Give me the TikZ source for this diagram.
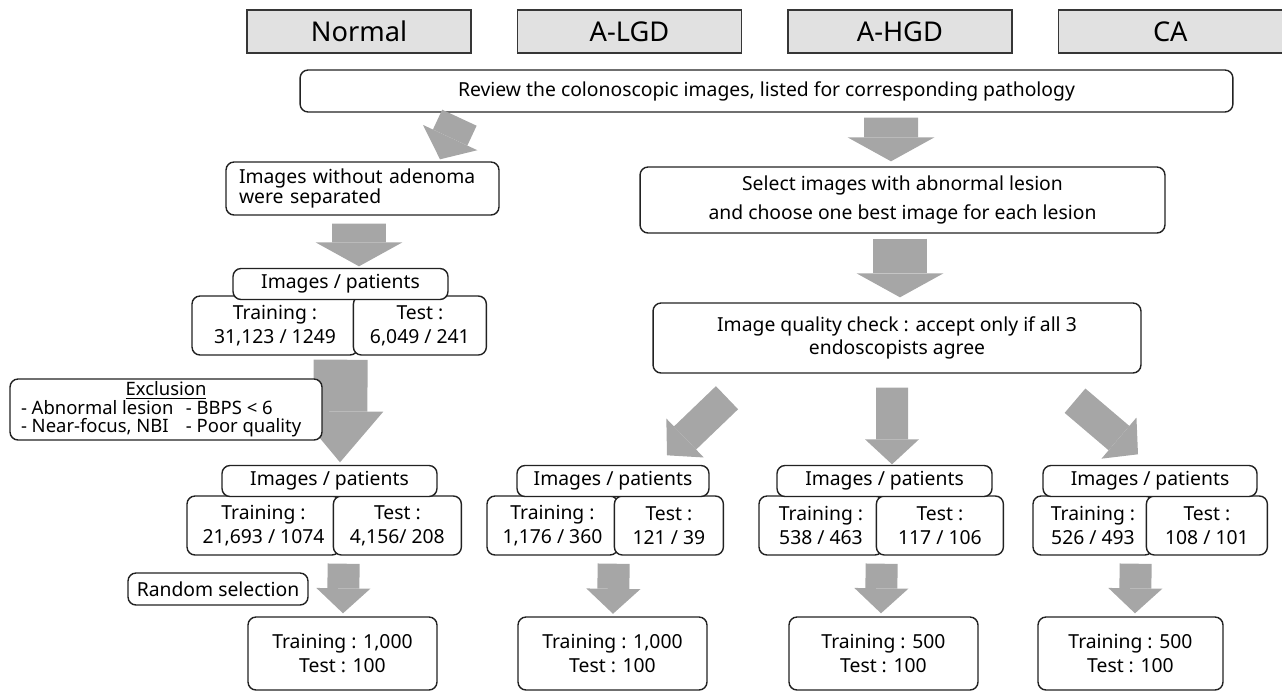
\documentclass[tikz,border=0pt]{standalone}
\usepackage{fontspec}
\setmainfont{Noto Sans}
\usetikzlibrary{positioning,calc,arrows.meta}
\definecolor{arrgray}{HTML}{A6A6A6}
\definecolor{hdrfill}{HTML}{E1E1E1}
\definecolor{hdrline}{HTML}{363636}
\definecolor{boxline}{HTML}{222222}

\begin{document}
\begin{tikzpicture}[x=0.02cm, y=-0.02cm,
    hdr/.style={rectangle, draw=hdrline, fill=hdrfill, line width=0.85pt, minimum width=4.48cm, minimum height=0.86cm, inner sep=0pt, font=\fontsize{15.5}{18}\selectfont},
    box/.style={rectangle, rounded corners=0.16cm, draw=boxline, fill=white, line width=0.8pt, inner sep=0pt, align=center, font=\fontsize{11}{13.5}\selectfont},
    ipbox/.style={box, minimum height=0.62cm},
    numbox/.style={box, minimum height=1.18cm},
    finbox/.style={box, minimum width=3.78cm, minimum height=1.46cm},
    fat/.style n args={3}{draw=arrgray, line width=#1, -{Triangle[width=#2, length=#3, line width=0pt]}},
    bigarr/.style={fat={1.08cm}{1.74cm}{0.48cm}},
    smallarr/.style={fat={0.64cm}{1.08cm}{0.5cm}}
]
\useasboundingbox (0,0) rectangle (1282,691);

% Pathology headers
\node[hdr] (hnorm) at (359,31.5) {Normal};
\node[hdr, right=0.9cm of hnorm] (hlgd) {A-LGD};
\node[hdr, right=0.9cm of hlgd] (hhgd) {A-HGD};
\node[hdr, right=0.9cm of hhgd] (hca) {CA};

% Review step
\node[box, minimum width=18.66cm, minimum height=0.84cm] (review) at (766.5,91) {Review the colonoscopic images, listed for corresponding pathology};

% Normal branch
\node[box, minimum width=5.46cm, minimum height=1.06cm, text width=4.94cm, align=left, font=\fontsize{11}{11}\selectfont] (noadn) at (362.5,188.5) {Images without adenoma\\were separated};
\node[numbox, minimum width=3.32cm] (tr1) at (275,325.5) {Training :\\31,123 / 1249};
\node[numbox, minimum width=2.66cm, right=-0.12cm of tr1] (te1) {Test :\\6,049 / 241};
\node[ipbox, minimum width=4.3cm] (ip1) at (340.5,284) {Images / patients};
\node[numbox, minimum width=3.06cm] (tr2) at (263.5,525.5) {Training :\\21,693 / 1074};
\node[numbox, minimum width=2.56cm, right=-0.16cm of tr2] (te2) {Test :\\4,156/ 208};
\node[ipbox, minimum width=4.3cm] (ip2) at (329.5,481) {Images / patients};
\node[box, minimum width=3.6cm, minimum height=0.64cm] (rand) at (218,589) {Random selection};
\node[finbox] (fin1) at (342.5,653.5) {Training : 1,000\\Test : 100};

% Lesion branch
\node[box, minimum width=10.5cm, minimum height=1.32cm] (sel) at (902.5,200) {Select images with abnormal lesion\\[3.5pt]and choose one best image for each lesion};
\node[box, minimum width=9.76cm, minimum height=1.4cm] (qc) at (897,338) {Image quality check : accept only if all 3\\endoscopists agree};

% A-LGD
\node[numbox, minimum width=2.62cm] (tr3) at (552.5,525.5) {Training :\\1,176 / 360};
\node[numbox, minimum width=2.18cm, right=-0.1cm of tr3] (te3) {Test :\\121 / 39};
\node[ipbox, minimum width=3.84cm] (ip3) at (613,481) {Images / patients};
\node[finbox] (fin2) at (612.5,653.5) {Training : 1,000\\Test : 100};

% A-HGD
\node[numbox, minimum width=2.48cm] (tr4) at (821,525.5) {Training :\\538 / 463};
\node[numbox, minimum width=2.54cm, right=-0.16cm of tr4] (te4) {Test :\\117 / 106};
\node[ipbox, minimum width=4.3cm] (ip4) at (884.5,481) {Images / patients};
\node[finbox] (fin3) at (883.5,653.5) {Training : 500\\Test : 100};

% CA
\node[numbox, minimum width=2.4cm] (tr5) at (1093,525.5) {Training :\\526 / 493};
\node[numbox, minimum width=2.42cm, right=-0.16cm of tr5] (te5) {Test :\\108 / 101};
\node[ipbox, minimum width=4.28cm] (ip5) at (1150,481) {Images / patients};
\node[finbox, minimum width=3.7cm] (fin4) at (1130.5,653.5) {Training : 500\\Test : 100};

% Block arrows
\draw[fat={0.76cm}{1.2cm}{0.48cm}] ($(review.south west)+(160,5)$) -- ($(noadn.north)+(77.5,-2)$);
\draw[bigarr] ($(review.south)+(124.5,5)$) -- ($(sel.north)+(-11.5,-5)$);
\draw[bigarr] ($(noadn.south)+(-3.5,8)$) -- ($(ip1.north)+(18.5,-1.5)$);
\draw[fat={1.08cm}{1.72cm}{1.02cm}] ($(tr1.south east)+(-18,4)$) -- ($(ip2.north)+(10.5,-2.5)$);
\draw[bigarr] ($(sel.south)+(-2.5,5)$) -- ($(qc.north)+(3,-5)$);
\draw[smallarr] ($(qc.south)+(-170,24)$) -- ($(ip3.north)+(54,-9.5)$);
\draw[smallarr] ($(qc.south)+(-5,14)$) -- ($(ip4.north)+(7.5,-0.5)$);
\draw[smallarr] ($(qc.south)+(178,27)$) -- ($(ip5.north)+(-12,-10.5)$);
\draw[smallarr] ($(te2.south west)+(11,8)$) -- ($(fin1.north)+(0.5,-3)$);
\draw[smallarr] ($(te3.south west)+(0,8)$) -- ($(fin2.north)+(0.5,-2.5)$);
\draw[smallarr] ($(te4.south west)+(6,8)$) -- ($(fin3.north)+(-2.5,-3)$);
\draw[smallarr] ($(te5.south west)+(-10,8)$) -- ($(fin4.north)+(4.5,-3)$);

% Exclusion note over the big arrow
\node[box, minimum width=6.24cm, minimum height=1.22cm, font=\fontsize{10.5}{10.5}\selectfont] (excl) at (166,409.5) {\underline{Exclusion}\\\makebox[3.3cm][l]{- Abnormal lesion}\makebox[2.5cm][l]{- BBPS < 6}\\\makebox[3.3cm][l]{- Near-focus, NBI}\makebox[2.5cm][l]{- Poor quality}};

\end{tikzpicture}
\end{document}
